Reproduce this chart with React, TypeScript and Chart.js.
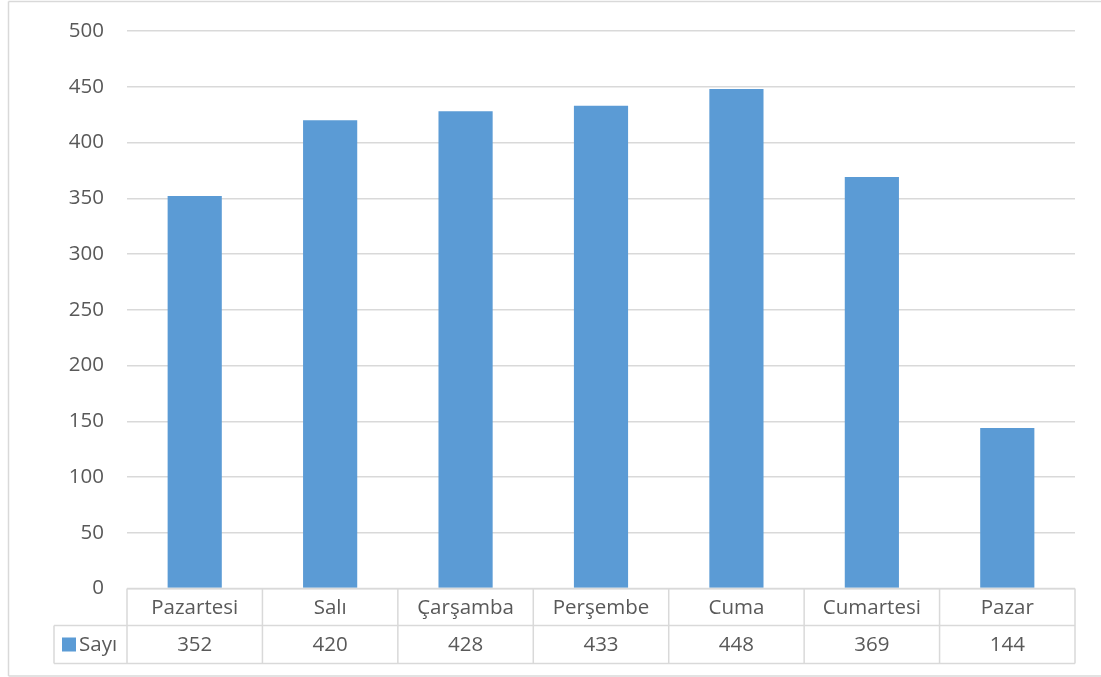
import React, { useEffect, useRef } from "react";
import { Chart, registerables } from "chart.js";

Chart.register(...registerables);

const categories = ["Pazartesi", "Salı", "Çarşamba", "Perşembe", "Cuma", "Cumartesi", "Pazar"];
const seriesName = "Sayı";
const values = [352, 420, 428, 433, 448, 369, 144];
const yTicks = [0, 50, 100, 150, 200, 250, 300, 350, 400, 450, 500];

const BAR_COLOR = "#5B9BD5";
const GRID = "#D9D9D9";
const TEXT = "#595959";
const FONT = "'Open Sans', 'Noto Sans', sans-serif";
const FONT_SIZE = 20.5;

const tablePlugin = {
  id: "dataTable",
  afterDraw(chart: any) {
    const ctx = chart.ctx as CanvasRenderingContext2D;
    const xs = chart.scales.x;
    const area = chart.chartArea;
    const n = categories.length;
    const catW = (area.right - area.left) / n;
    const top = area.bottom;
    const mid = top + 37;
    const bottom = mid + 38;
    const labelLeft = 54;

    ctx.save();
    ctx.strokeStyle = GRID;
    ctx.lineWidth = 1.5;
    ctx.beginPath();
    ctx.moveTo(8.5, 1.5);
    ctx.lineTo(chart.width, 1.5);
    ctx.moveTo(8.5, 1.5);
    ctx.lineTo(8.5, chart.height - 1);
    ctx.moveTo(8.5, chart.height - 1);
    ctx.lineTo(chart.width, chart.height - 1);
    ctx.stroke();

    ctx.beginPath();
    ctx.moveTo(area.left, top);
    ctx.lineTo(area.right, top);
    ctx.moveTo(labelLeft, mid);
    ctx.lineTo(area.right, mid);
    ctx.moveTo(labelLeft, bottom);
    ctx.lineTo(area.right, bottom);
    ctx.moveTo(labelLeft, mid);
    ctx.lineTo(labelLeft, bottom);
    for (let i = 0; i < n; i++) {
      const cx = xs.getPixelForValue(i);
      const l = cx - catW / 2;
      ctx.moveTo(l, top);
      ctx.lineTo(l, bottom);
    }
    ctx.moveTo(area.right, top);
    ctx.lineTo(area.right, bottom);
    ctx.stroke();

    ctx.fillStyle = TEXT;
    ctx.font = `${FONT_SIZE}px ${FONT}`;
    ctx.textAlign = "center";
    ctx.textBaseline = "middle";
    for (let i = 0; i < n; i++) {
      const cx = xs.getPixelForValue(i);
      ctx.fillText(categories[i], cx, (top + mid) / 2 + 1);
      ctx.fillText(String(values[i]), cx, (mid + bottom) / 2 + 1);
    }
    ctx.fillStyle = BAR_COLOR;
    ctx.fillRect(62, (mid + bottom) / 2 - 7, 14, 14);
    ctx.fillStyle = TEXT;
    ctx.textAlign = "left";
    ctx.fillText(seriesName, 79, (mid + bottom) / 2 + 1);
    ctx.restore();
  },
};

export default function App() {
  const ref = useRef<HTMLCanvasElement | null>(null);

  useEffect(() => {
    if (!ref.current) return;
    const chart = new Chart(ref.current, {
      type: "bar",
      data: {
        labels: categories,
        datasets: [
          {
            label: seriesName,
            data: values,
            backgroundColor: BAR_COLOR,
            categoryPercentage: 1,
            barPercentage: 0.4,
          },
        ],
      },
      options: {
        responsive: false,
        animation: false,
        layout: { padding: { top: 31, right: 26, bottom: 88.5, left: 0 } },
        plugins: { legend: { display: false }, tooltip: { enabled: false } },
        scales: {
          x: { display: false },
          y: {
            min: 0,
            max: 500,
            afterFit: (s: any) => {
              s.width = 127;
            },
            afterBuildTicks: (s: any) => {
              s.ticks = yTicks.map((v) => ({ value: v }));
            },
            border: { display: false },
            grid: { color: GRID, lineWidth: 1.5, drawTicks: true, tickLength: 23, tickColor: "rgba(0,0,0,0)" },
            ticks: {
              color: TEXT,
              padding: 0,
              font: { family: FONT, size: FONT_SIZE },
            },
          },
        },
      },
      plugins: [tablePlugin],
    });
    return () => chart.destroy();
  }, []);

  return (
    <div style={{ position: "absolute", left: 0, top: 0, width: 1101, height: 677, background: "#fff" }}>
      <canvas ref={ref} width={1101} height={677} style={{ display: "block" }} />
    </div>
  );
}
